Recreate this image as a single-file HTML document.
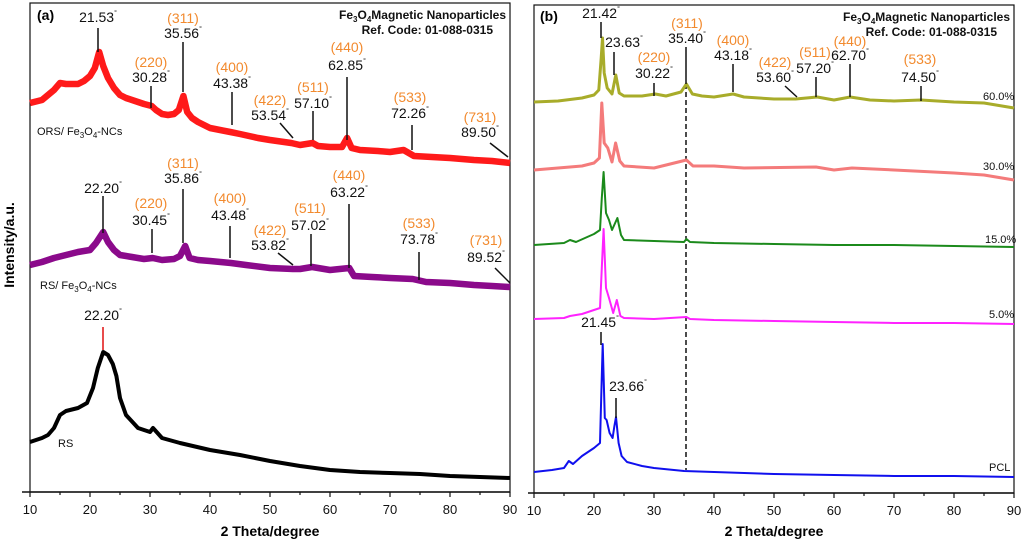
<!DOCTYPE html>
<html><head><meta charset="utf-8"><style>
body{margin:0;background:#fff;}
svg{display:block;font-family:"Liberation Sans",Arial,sans-serif;}
.t{font-size:14px;fill:#111;text-anchor:middle}
.o{font-size:14px;fill:#f28a2e;text-anchor:middle}
.tk{font-size:13px;fill:#111;text-anchor:middle}
.b{font-weight:bold;font-size:12px;fill:#111;text-anchor:end}
.s{font-size:11px;fill:#111}
</style></head><body>
<svg id="chart" width="1024" height="545" viewBox="0 0 1024 545">
<g id="panelA">
<rect x="30" y="3" width="480" height="489" fill="none" stroke="#111" stroke-width="1.2"/>
<line x1="22" y1="492" x2="510" y2="492" stroke="#111" stroke-width="1.5"/>
<text x="37" y="20" style="font-weight:bold;font-size:14px">(a)</text>
<text x="506" y="19" class="b">Fe<tspan font-size="8" dy="3">3</tspan><tspan dy="-3">O</tspan><tspan font-size="8" dy="3">4</tspan><tspan dy="-3">Magnetic Nanoparticles</tspan></text>
<text x="493" y="34" class="b">Ref. Code: 01-088-0315</text>
<text transform="translate(14,245) rotate(-90)" style="font-weight:bold;font-size:14px;text-anchor:middle">Intensity/a.u.</text>
<text x="270" y="536" style="font-weight:bold;font-size:14px;text-anchor:middle">2 Theta/degree</text>
</g>
<g id="panelB">
<rect x="534" y="5" width="480" height="488" fill="none" stroke="#111" stroke-width="1.2"/>
<line x1="528" y1="493" x2="1014" y2="493" stroke="#111" stroke-width="1.5"/>
<text x="540" y="21" style="font-weight:bold;font-size:14px">(b)</text>
<text x="1010" y="21" class="b">Fe<tspan font-size="8" dy="3">3</tspan><tspan dy="-3">O</tspan><tspan font-size="8" dy="3">4</tspan><tspan dy="-3">Magnetic Nanoparticles</tspan></text>
<text x="997" y="36" class="b">Ref. Code: 01-088-0315</text>
<text x="774" y="536" style="font-weight:bold;font-size:14px;text-anchor:middle">2 Theta/degree</text>
<line x1="686" y1="84" x2="686" y2="470" stroke="#111" stroke-width="1.5" stroke-dasharray="5,3"/>
</g>
<g id="series"></g>
<g id="annots"></g>
</svg>
<script>
// x-axis ticks
const tickLabels = [10,20,30,40,50,60,70,80,90];
// series data: 2theta (deg) and intensity (a.u., higher = up)
const orsX = [10,12,14,15,16,18,19,20,20.8,21.53,22.2,23,24,25,26,28,29,30.28,31,32,33,34,34.8,35.56,36.2,37,38,40,43.38,45,48,50,53.54,55,57.1,58,60,62,62.85,63.6,65,68,70,72.26,74,77,80,84,87,90];
const orsY = [385,388,398,405,404,404,407,412,420,436,422,410,400,393,390,386,384,382,378,374,373,374,378,392,376,370,366,360,356,354,350,348,345,343,345,342,341,341,350,340,338,337,336,338,332,331,330,328,327,325];
const rsncX = [10,12,14,16,18,20,21,22.2,23,24,25,27,29,30.45,32,34,35,35.86,36.6,38,40,43.48,46,50,53.82,55,57.02,60,63.22,64,67,70,73.78,76,80,84,87,90];
const rsncY = [223,226,230,233,236,238,245,256,246,238,233,231,229,230,228,229,232,242,230,228,227,225,223,220,219,219,221,218,220,212,211,210,209,206,205,203,202,201];
const rsX = [10,12,13,14,15,16,18,19.5,20.5,21.3,22.2,23,23.8,24.4,25,26,28,30,30.5,32,35,40,45,50,55,60,65,70,75,80,85,90];
const rsY = [46,50,53,60,73,77,80,85,100,120,136,133,124,112,90,73,60,56,60,50,45,38,33,27,22,18,16,15,14,12,11,10];
const p60X = [10,14,18,20,20.8,21.2,21.42,21.7,22.2,23,23.63,24.2,25,28,30.22,32,34.5,35.4,36.4,38,40,43.18,45,50,53.6,57.2,60,62.7,66,70,74.5,80,85,90];
const p60Y = [386,387,390,393,398,430,450,415,400,394,413,395,392,392,394,392,396,404,394,392,391,394,391,389,389,391,388,391,388,387,388,386,385,380];
const p30X = [10,14,18,20,20.9,21.3,21.7,22.3,23,23.6,24.3,25,30,35.4,36.5,40,45,57,60,63,70,80,85,90];
const p30Y = [318,320,322,325,330,385,345,340,326,345,327,322,320,328,322,322,320,321,318,320,318,315,313,308];
const p15X = [10,15,16,17,20,21,21.3,21.6,22,22.5,23,23.9,24.5,25,30,35,35.4,36,40,50,60,70,80,90];
const p15Y = [243,245,248,246,254,258,290,316,275,268,258,270,253,248,247,246,249,246,245,244,243,243,242,241];
const p5X = [10,15,16,18,20,21,21.3,21.6,22,22.5,23.2,23.8,24.4,25,30,35.4,36,40,50,60,70,80,90];
const p5Y = [169,170,172,174,178,180,220,259,200,190,175,188,172,170,169,171,169,168,167,166,165,165,164];
const pclX = [10,13,15,15.8,16.5,18,20,21,21.2,21.45,21.8,22.1,22.6,23.1,23.4,23.66,24.1,24.6,25.5,28,30,35,40,50,60,70,80,90];
const pclY = [16,18,20,27,24,32,40,45,90,144,70,68,55,50,62,71,45,32,26,22,20,17,16,14,13,12,12,11];

const NS = 'http://www.w3.org/2000/svg';
const xA = d => 30 + (d - 10) * 6;
const xB = d => 534 + (d - 10) * 6;
const yA = v => 488 - v;
const series = document.getElementById('series');
const annots = document.getElementById('annots');

function draw(name, xs, ys, xf, color, w){
  const p = document.createElementNS(NS,'polyline');
  p.setAttribute('points', xs.map((d,i)=>xf(d).toFixed(1)+','+yA(ys[i]).toFixed(1)).join(' '));
  p.setAttribute('fill','none');
  p.setAttribute('stroke',color);
  p.setAttribute('stroke-width',w);
  p.setAttribute('stroke-linejoin','round');
  
  
  series.appendChild(p);
}
draw('ors-fe3o4-trace', orsX, orsY, xA, '#ff1a1a', 6.5);
draw('rs-fe3o4-trace', rsncX, rsncY, xA, '#8b0a8b', 6.5);
draw('rs-trace', rsX, rsY, xA, '#000', 4);
draw('trace-60pct', p60X, p60Y, xB, '#a8ac2a', 3);
draw('trace-30pct', p30X, p30Y, xB, '#f47b7b', 3);
draw('trace-15pct', p15X, p15Y, xB, '#1b8a1b', 2);
draw('trace-5pct', p5X, p5Y, xB, '#ff22ff', 2);
draw('trace-pcl', pclX, pclY, xB, '#1010ee', 2);

// ticks
[[xA,492],[xB,493]].forEach(([xf,y0])=>{
  for(let d=10; d<=90; d+=5){
    const l=document.createElementNS(NS,'line');
    l.setAttribute('x1',xf(d));l.setAttribute('x2',xf(d));
    l.setAttribute('y1',y0);l.setAttribute('y2',y0+(d%10===0?5:3));
    l.setAttribute('stroke','#111');l.setAttribute('stroke-width','1.2');
    
    
    annots.appendChild(l);
  }
  tickLabels.forEach(v=>{
    const t=document.createElementNS(NS,'text');
    t.setAttribute('x',xf(v));t.setAttribute('y',y0+22);
    t.setAttribute('class','tk');t.textContent=v;
    
    
    annots.appendChild(t);
  });
});

function txt(x,y,s,cls){
  const t=document.createElementNS(NS,'text');
  t.setAttribute('x',x);t.setAttribute('y',y);t.setAttribute('class',cls);
  if(s.endsWith('°')){
    t.innerHTML=s.slice(0,-1)+'<tspan font-size="7" dy="-7">°</tspan>';
  } else t.textContent=s;
  
  
  annots.appendChild(t);
}
function ln(x1,y1,x2,y2,c){
  const l=document.createElementNS(NS,'line');
  l.setAttribute('x1',x1);l.setAttribute('y1',y1);l.setAttribute('x2',x2);l.setAttribute('y2',y2);
  l.setAttribute('stroke',c||'#111');l.setAttribute('stroke-width','1.5');
  
  
  annots.appendChild(l);
}
const A = [
 [98,null,'',22,'21.53°',[98,28,98,52]],
 [183,23,'(311)',38,'35.56°',[183,42,183,92]],
 [151,67,'(220)',82,'30.28°',[151,86,151,108]],
 [232,72,'(400)',88,'43.38°',[232,92,232,125]],
 [270,105,'(422)',120,'53.54°',[280,123,293,138]],
 [313,92,'(511)',108,'57.10°',[313,111,313,140]],
 [347,52,'(440)',70,'62.85°',[347,77,347,140]],
 [410,102,'(533)',118,'72.26°',[412,125,412,150]],
 [480,122,'(731)',137,'89.50°',[490,143,508,157]],
 [183,168,'(311)',183,'35.86°',[183,189,183,243]],
 [103,null,'',193,'22.20°',[103,196,103,233]],
 [151,208,'(220)',225,'30.45°',[152,229,152,253]],
 [230,203,'(400)',220,'43.48°',[230,226,230,258]],
 [270,235,'(422)',250,'53.82°',[278,253,293,265]],
 [310,213,'(511)',230,'57.02°',[311,234,311,266]],
 [349,180,'(440)',197,'63.22°',[349,204,349,268]],
 [419,228,'(533)',244,'73.78°',[419,252,419,280]],
 [486,245,'(731)',262,'89.52°',[495,268,510,283]],
 [601,null,'',18,'21.42°',[601,22,601,38]],
 [624,null,'',47,'23.63°',[614,52,614,75]],
 [654,62,'(220)',78,'30.22°',[654,83,654,96]],
 [687,28,'(311)',43,'35.40°',[686,47,686,84]],
 [733,45,'(400)',60,'43.18°',[733,64,733,92]],
 [775,67,'(422)',82,'53.60°',[785,86,797,97]],
 [815,57,'(511)',73,'57.20°',[816,77,816,97]],
 [850,46,'(440)',60,'62.70°',[850,64,850,97]],
 [920,64,'(533)',82,'74.50°',[921,86,921,101]],
 [600,null,'',327,'21.45°',[601,332,601,345]],
 [628,null,'',391,'23.66°',[616,398,616,418]]
];
A.forEach(a=>{
  if(a[1]!==null) txt(a[0],a[1],a[2],'o');
  txt(a[0],a[3],a[4],'t');
  ln(...a[5]);
});
txt(103,320,'22.20°','t');
ln(103,327,103,350,'#e01010');
txt(58,447,'RS','s');
txt(983,100,'60.0%','s');
txt(983,170,'30.0%','s');
txt(985,243,'15.0%','s');
txt(989,318,'5.0%','s');
txt(989,471,'PCL','s');
[[37,135,'ORS/ Fe'],[40,289,'RS/ Fe']].forEach(([x,y,s])=>{
  const t=document.createElementNS(NS,'text');
  t.setAttribute('x',x);t.setAttribute('y',y);t.setAttribute('class','s');
  t.innerHTML=s+'<tspan font-size="8" dy="3">3</tspan><tspan dy="-3">O</tspan><tspan font-size="8" dy="3">4</tspan><tspan dy="-3">-NCs</tspan>';
  
  
  annots.appendChild(t);
});
</script>
</body></html>
